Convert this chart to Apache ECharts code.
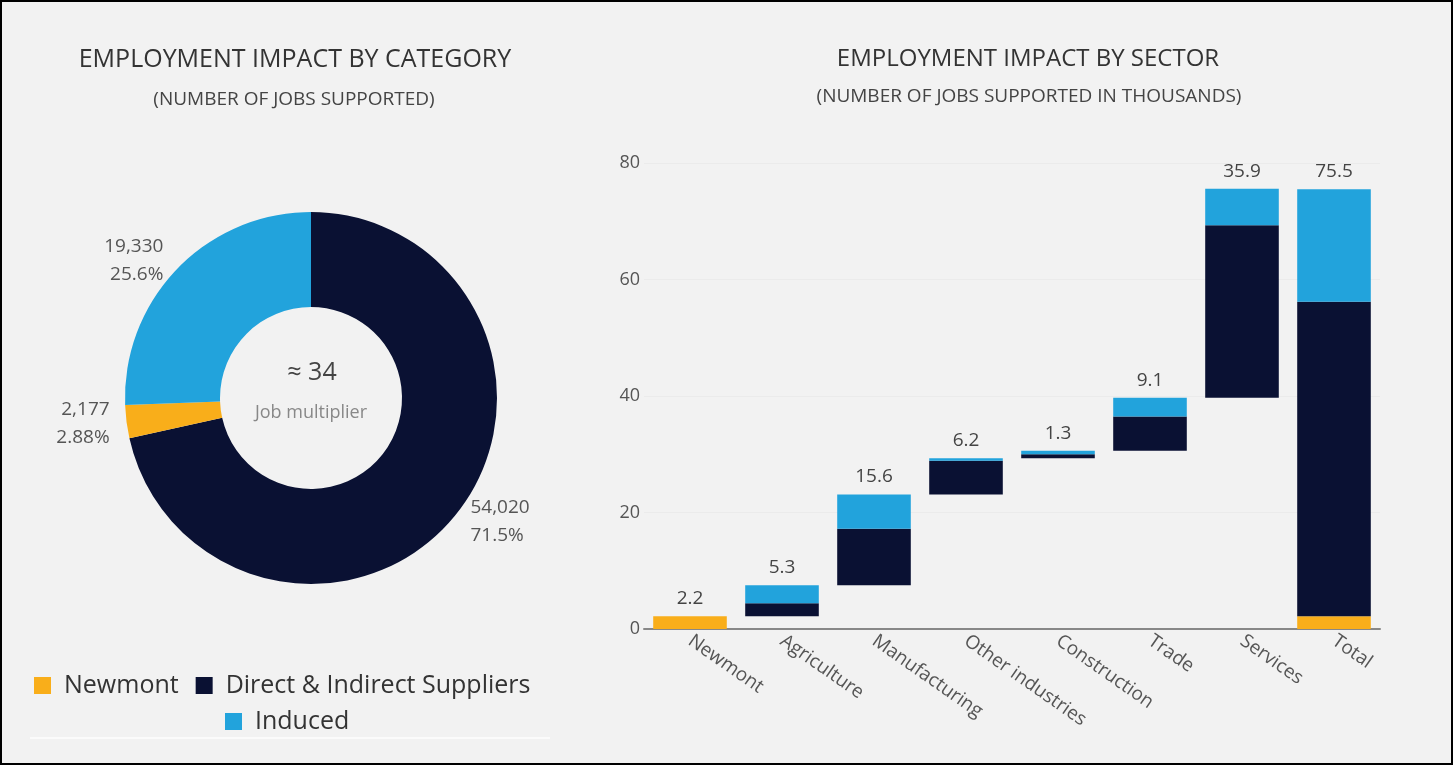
<!DOCTYPE html>
<html>
<head>
<meta charset="utf-8">
<script src="https://cdn.jsdelivr.net/npm/echarts@6/dist/echarts.min.js"></script>
<style>
  html, body { margin: 0; padding: 0; background: #f2f2f2; }
  #wrap { position: relative; width: 1453px; height: 765px; }
  #main { position: absolute; left: 0; top: 0; width: 1453px; height: 765px; }
  #frame { position: absolute; left: 0; top: 0; width: 1453px; height: 765px; box-sizing: border-box; border: 2px solid #000; pointer-events: none; }
</style>
</head>
<body>
<div id="wrap"><div id="main"></div><div id="frame"></div></div>
<script>
// ---- Donut data (employment by category) ----
const pieNames = ['Direct & Indirect Suppliers', 'Newmont', 'Induced'];
const pieValues = [54020, 2177, 19330];
const legendRow1 = ['Newmont', 'Direct & Indirect Suppliers'];
const legendRow2 = ['Induced'];
const multiplierText = '\u2248 34';
const multiplierCaption = 'Job multiplier';

// ---- Waterfall data (employment by sector, thousands) ----
const sectors = ['Newmont', 'Agriculture', 'Manufacturing', 'Other industries', 'Construction', 'Trade', 'Services', 'Total'];
const newmontJobs = [2.2, 0, 0, 0, 0, 0, 0, 2.2];
const directJobs = [0, 2.2, 9.7, 5.8, 0.7, 5.9, 29.6, 54.0];
const inducedJobs = [0, 3.1, 5.9, 0.4, 0.6, 3.2, 6.3, 19.3];
const sectorTotals = ['2.2', '5.3', '15.6', '6.2', '1.3', '9.1', '35.9', '75.5'];
const yTicks = { min: 0, max: 80, interval: 20 };

const C_ORANGE = '#f9ae1a';
const C_NAVY = '#0a1133';
const C_BLUE = '#22a3dc';
const colorMap = { 'Newmont': C_ORANGE, 'Direct & Indirect Suppliers': C_NAVY, 'Induced': C_BLUE };

// invisible base for the waterfall: running total of previous sector bars (Total starts at 0)
const baseVals = [];
let run = 0;
for (let i = 0; i < sectors.length; i++) {
  if (i === sectors.length - 1) { baseVals.push(0); }
  else { baseVals.push(+run.toFixed(2)); run += newmontJobs[i] + directJobs[i] + inducedJobs[i]; }
}

const FONT = '"Open Sans", "Noto Sans", sans-serif';
const chart = echarts.init(document.getElementById('main'), null, { renderer: 'canvas' });

function fmtNum(v) { return v.toString().replace(/\B(?=(\d{3})+(?!\d))/g, ','); }

const option = {
  backgroundColor: '#f2f2f2',
  textStyle: { fontFamily: FONT },
  animation: false,
  graphic: [
    { type: 'text', x: 295, y: 60, style: { text: 'EMPLOYMENT IMPACT BY CATEGORY', font: '25px ' + FONT, fill: '#333', textAlign: 'center', textVerticalAlign: 'middle' } },
    { type: 'text', x: 294, y: 100, style: { text: '(NUMBER OF JOBS SUPPORTED)', font: '19px ' + FONT, fill: '#444', textAlign: 'center', textVerticalAlign: 'middle' } },
    { type: 'text', x: 1028, y: 59, style: { text: 'EMPLOYMENT IMPACT BY SECTOR', font: '24px ' + FONT, fill: '#333', textAlign: 'center', textVerticalAlign: 'middle' } },
    { type: 'text', x: 1029, y: 97, style: { text: '(NUMBER OF JOBS SUPPORTED IN THOUSANDS)', font: '19px ' + FONT, fill: '#444', textAlign: 'center', textVerticalAlign: 'middle' } },
    { type: 'text', x: 312, y: 373, style: { text: multiplierText, font: '25px ' + FONT, fill: '#444', textAlign: 'center', textVerticalAlign: 'middle' } },
    { type: 'text', x: 311, y: 413, style: { text: multiplierCaption, font: '18px ' + FONT, fill: '#888', textAlign: 'center', textVerticalAlign: 'middle' } },
    { type: 'line', shape: { x1: 30, y1: 738, x2: 550, y2: 738 }, style: { stroke: '#fbfbfb', lineWidth: 2 } }
  ],
  legend: [
    { data: legendRow1, left: 29, top: 668, itemWidth: 17, itemHeight: 17, itemGap: 17, icon: 'rect',
      textStyle: { fontSize: 25, color: '#333', fontFamily: FONT, padding: [0, 0, 0, 8] } },
    { data: legendRow2, left: 220, top: 704, itemWidth: 17, itemHeight: 17, icon: 'rect',
      textStyle: { fontSize: 25, color: '#333', fontFamily: FONT, padding: [0, 0, 0, 8] } }
  ],
  grid: { left: 644, right: 73, top: 163, bottom: 136 },
  xAxis: {
    type: 'category', data: sectors,
    axisLine: { lineStyle: { color: '#888', width: 2 } },
    axisTick: { show: false },
    axisLabel: { rotate: -35, interval: 0, color: '#555', fontSize: 19, fontFamily: FONT, margin: 10 }
  },
  yAxis: {
    type: 'value', min: yTicks.min, max: yTicks.max, interval: yTicks.interval,
    axisLine: { show: false }, axisTick: { show: false },
    axisLabel: { color: '#555', fontSize: 18, fontFamily: FONT, margin: 4 },
    splitLine: { lineStyle: { color: '#ebebeb', width: 1 } }
  },
  series: [
    { type: 'pie', name: 'category', center: [311, 398], radius: [91, 186], startAngle: 90, clockwise: true,
      avoidLabelOverlap: false,
      data: pieNames.map((n, i) => ({ name: n, value: pieValues[i], itemStyle: { color: colorMap[n] } })),
      label: { show: true, position: 'outside', color: '#555', fontSize: 19, fontFamily: FONT, lineHeight: 28,
        formatter: p => fmtNum(p.value) + '\n' + p.percent.toPrecision(3) + '%' },
      labelLine: { show: false, length: 12, length2: 0 },
      emphasis: { disabled: true }
    },
    { type: 'bar', name: 'base', stack: 'w', data: baseVals, itemStyle: { color: 'transparent' }, barWidth: '80%', silent: true },
    { type: 'bar', name: 'Newmont', stack: 'w', data: newmontJobs, itemStyle: { color: C_ORANGE } },
    { type: 'bar', name: 'Direct & Indirect Suppliers', stack: 'w', data: directJobs, itemStyle: { color: C_NAVY } },
    { type: 'bar', name: 'Induced', stack: 'w', data: inducedJobs, itemStyle: { color: C_BLUE } },
    { type: 'bar', name: 'totals', stack: 'w', data: sectors.map(() => 0), itemStyle: { color: 'transparent' },
      label: { show: true, position: 'top', distance: 8, color: '#444', fontSize: 19, fontFamily: FONT,
        formatter: p => sectorTotals[p.dataIndex] } }
  ]
};
chart.setOption(option);
</script>
</body>
</html>
